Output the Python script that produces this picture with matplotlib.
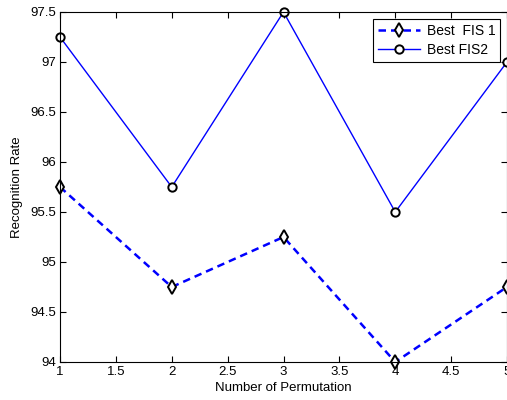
import matplotlib
matplotlib.use("Agg")
import matplotlib.pyplot as plt

x = [1, 2, 3, 4, 5]
fis1 = [95.75, 94.75, 95.25, 94.0, 94.75]
fis2 = [97.25, 95.75, 97.5, 95.5, 97.0]
xticks = [1, 1.5, 2, 2.5, 3, 3.5, 4, 4.5, 5]
yticks = [94, 94.5, 95, 95.5, 96, 96.5, 97, 97.5]

plt.rcParams['font.family'] = ['Liberation Sans', 'DejaVu Sans']
fs = 9.5
fig = plt.figure(figsize=(5.07, 4.0), dpi=100)
ax = fig.add_axes([60/507, 38/400, 447/507, 350/400])

ax.plot(x, fis1, color='#0000ff', linestyle='--', linewidth=1.8, marker='d',
        markersize=7, markerfacecolor='white', markeredgecolor='black',
        markeredgewidth=1.4, label='Best  FIS 1', clip_on=False, dashes=(3, 2))
ax.plot(x, fis2, color='#0000ff', linestyle='-', linewidth=1.0, marker='o',
        markersize=6, markerfacecolor='white', markeredgecolor='black',
        markeredgewidth=1.4, label='Best FIS2', clip_on=False)

ax.set_xlim(1, 5)
ax.set_ylim(94, 97.5)
ax.set_xticks(xticks)
ax.set_xticklabels([f'{v:g}' for v in xticks])
ax.set_yticks(yticks)
ax.set_yticklabels([f'{v:g}' for v in yticks])
ax.tick_params(direction='in', length=4, labelsize=fs, colors='black', pad=3)
ax.tick_params(top=True, right=True)
ax.set_xlabel('Number of Permutation', fontsize=fs, labelpad=3)
ax.set_ylabel('Recognition Rate', fontsize=fs, labelpad=5)
for s in ax.spines.values():
    s.set_linewidth(0.8)

leg = ax.legend(loc='upper right', bbox_to_anchor=(1.0, 1.0), fontsize=fs + 0.5,
                fancybox=False, edgecolor='black', framealpha=1,
                handlelength=3.0, borderpad=0.35, labelspacing=0.35,
                handletextpad=0.5, borderaxespad=0.5)
leg.get_frame().set_linewidth(0.8)

fig.savefig('out.png', dpi=100)
